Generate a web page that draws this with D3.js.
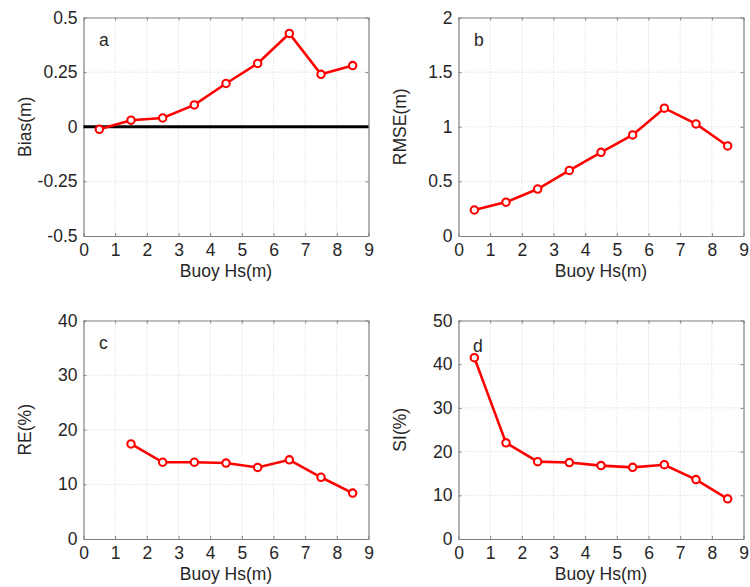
<!DOCTYPE html>
<html>
<head>
<meta charset="utf-8">
<script src="https://cdn.jsdelivr.net/npm/d3@7"></script>
<style>
body{margin:0;background:#fff;}
svg text{font-family:"Liberation Sans",Arial,sans-serif;fill:#262626;}
</style>
</head>
<body>
<svg id="chart" width="750" height="587"></svg>
<script>
const xTicks=[0,1,2,3,4,5,6,7,8,9]
const hs=[0.5,1.5,2.5,3.5,4.5,5.5,6.5,7.5,8.5]
const bias=[-0.012,0.03,0.04,0.10,0.198,0.29,0.427,0.24,0.28]
const rmse=[0.238,0.31,0.43,0.60,0.766,0.925,1.17,1.026,0.824]
const reX=[1.5,2.5,3.5,4.5,5.5,6.5,7.5,8.5]
const re=[17.4,14.05,14.05,13.9,13.1,14.5,11.3,8.4]
const si=[41.5,22.0,17.7,17.5,16.8,16.4,17.0,13.6,9.2]
const biasTicks=[-0.5,-0.25,0,0.25,0.5]
const rmseTicks=[0,0.5,1,1.5,2]
const reTicks=[0,10,20,30,40]
const siTicks=[0,10,20,30,40,50]

const svg=d3.select("#chart")
const pw=285, ph=218.5

const panels=[
  {left:83.5,top:17.5,xs:hs,ys:bias,yTicks:biasTicks,dom:[-0.5,0.5],ylab:"Bias(m)",tag:"a",tx:99,ty:46,zero:true},
  {left:458.5,top:17.5,xs:hs,ys:rmse,yTicks:rmseTicks,dom:[0,2],ylab:"RMSE(m)",tag:"b",tx:474,ty:46},
  {left:83.5,top:320.5,xs:reX,ys:re,yTicks:reTicks,dom:[0,40],ylab:"RE(%)",tag:"c",tx:99,ty:349},
  {left:458.5,top:320.5,xs:hs,ys:si,yTicks:siTicks,dom:[0,50],ylab:"SI(%)",tag:"d",tx:473,ty:352}
]

panels.forEach(p=>{
  const g=svg.append("g").attr("transform","translate("+p.left+","+p.top+")")
  const x=d3.scaleLinear().domain([0,9]).range([0,pw])
  const y=d3.scaleLinear().domain(p.dom).range([ph,0])

  // grid
  g.append("g").selectAll("line").data(xTicks.slice(1,-1)).enter().append("line")
    .attr("x1",d=>x(d)).attr("x2",d=>x(d)).attr("y1",0).attr("y2",ph)
    .attr("stroke","#d4d4d4").attr("stroke-dasharray","1,2").attr("stroke-width",1)
  g.append("g").selectAll("line").data(p.yTicks.slice(1,-1)).enter().append("line")
    .attr("y1",d=>y(d)).attr("y2",d=>y(d)).attr("x1",0).attr("x2",pw)
    .attr("stroke","#d4d4d4").attr("stroke-dasharray","1,2").attr("stroke-width",1)

  // axes with inward ticks
  const ax=g.append("g").attr("transform","translate(0,"+ph+")")
    .call(d3.axisBottom(x).tickValues(xTicks).tickSizeInner(-3).tickSizeOuter(0).tickPadding(8))
  const ay=g.append("g")
    .call(d3.axisLeft(y).tickValues(p.yTicks).tickFormat(d=>d).tickSizeInner(-3).tickSizeOuter(0).tickPadding(6))
  const at=g.append("g").call(d3.axisTop(x).tickValues(xTicks).tickSizeInner(-3).tickSizeOuter(0).tickFormat(""))
  const ar=g.append("g").attr("transform","translate("+pw+",0)")
    .call(d3.axisRight(y).tickValues(p.yTicks).tickSizeInner(-3).tickSizeOuter(0).tickFormat(""))
  ;[ax,ay,at,ar].forEach(a=>{
    a.selectAll("path").attr("stroke","#808080").attr("stroke-width",1.2)
    a.selectAll("line").attr("stroke","#808080")
    a.selectAll("text").style("font-size","17.5px").attr("fill","#262626")
  })
  ax.selectAll("text").attr("dy","0.71em")

  if(p.zero){
    g.append("line").attr("x1",x(0)).attr("x2",x(9)).attr("y1",y(0)).attr("y2",y(0))
      .attr("stroke","#000").attr("stroke-width",3.2)
  }

  const pts=p.xs.map((d,i)=>[d,p.ys[i]])
  g.append("path").datum(pts)
    .attr("d",d3.line().x(d=>x(d[0])).y(d=>y(d[1])))
    .attr("fill","none").attr("stroke","#ff0000").attr("stroke-width",2.6)
  g.selectAll("circle").data(pts).enter().append("circle")
    .attr("cx",d=>x(d[0])).attr("cy",d=>y(d[1])).attr("r",3.7)
    .attr("fill","#fff").attr("stroke","#ff0000").attr("stroke-width",2.1)

  svg.append("text").attr("x",p.tx).attr("y",p.ty).style("font-size","17.5px").text(p.tag)
  svg.append("text").attr("x",p.left+pw/2).attr("y",p.top+ph+41)
    .attr("text-anchor","middle").style("font-size","17.5px").text("Buoy Hs(m)")
  svg.append("text").attr("transform","translate("+(p.left-53)+","+(p.top+ph/2)+") rotate(-90)")
    .attr("text-anchor","middle").style("font-size","17.5px").text(p.ylab)
})
</script>
</body>
</html>
